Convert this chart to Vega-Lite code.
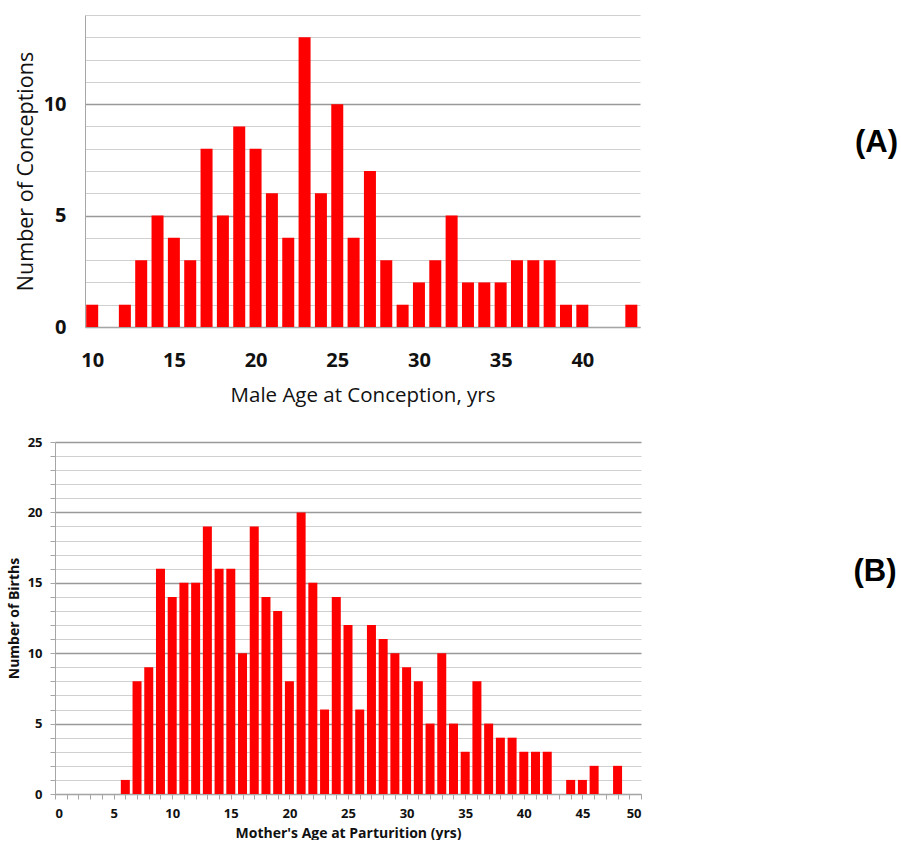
{
  "$schema": "https://vega.github.io/schema/vega-lite/v6.json",
  "background": "white",
  "padding": {"left": 7, "top": 15, "right": 0, "bottom": 0},
  "spacing": 30,
  "config": {
    "view": {"stroke": null},
    "font": "Open Sans",
    "axis": {"labelColor": "#111111", "titleColor": "#111111", "domainColor": "#a6a6a6"}
  },
  "datasets": {
    "male": [
      {"age": 10, "n": 1}, {"age": 11, "n": 0}, {"age": 12, "n": 1}, {"age": 13, "n": 3},
      {"age": 14, "n": 5}, {"age": 15, "n": 4}, {"age": 16, "n": 3}, {"age": 17, "n": 8},
      {"age": 18, "n": 5}, {"age": 19, "n": 9}, {"age": 20, "n": 8}, {"age": 21, "n": 6},
      {"age": 22, "n": 4}, {"age": 23, "n": 13}, {"age": 24, "n": 6}, {"age": 25, "n": 10},
      {"age": 26, "n": 4}, {"age": 27, "n": 7}, {"age": 28, "n": 3}, {"age": 29, "n": 1},
      {"age": 30, "n": 2}, {"age": 31, "n": 3}, {"age": 32, "n": 5}, {"age": 33, "n": 2},
      {"age": 34, "n": 2}, {"age": 35, "n": 2}, {"age": 36, "n": 3}, {"age": 37, "n": 3},
      {"age": 38, "n": 3}, {"age": 39, "n": 1}, {"age": 40, "n": 1}, {"age": 41, "n": 0},
      {"age": 42, "n": 0}, {"age": 43, "n": 1}
    ],
    "mother": [
      {"age": 6, "n": 1}, {"age": 7, "n": 8}, {"age": 8, "n": 9}, {"age": 9, "n": 16},
      {"age": 10, "n": 14}, {"age": 11, "n": 15}, {"age": 12, "n": 15}, {"age": 13, "n": 19},
      {"age": 14, "n": 16}, {"age": 15, "n": 16}, {"age": 16, "n": 10}, {"age": 17, "n": 19},
      {"age": 18, "n": 14}, {"age": 19, "n": 13}, {"age": 20, "n": 8}, {"age": 21, "n": 20},
      {"age": 22, "n": 15}, {"age": 23, "n": 6}, {"age": 24, "n": 14}, {"age": 25, "n": 12},
      {"age": 26, "n": 6}, {"age": 27, "n": 12}, {"age": 28, "n": 11}, {"age": 29, "n": 10},
      {"age": 30, "n": 9}, {"age": 31, "n": 8}, {"age": 32, "n": 5}, {"age": 33, "n": 10},
      {"age": 34, "n": 5}, {"age": 35, "n": 3}, {"age": 36, "n": 8}, {"age": 37, "n": 5},
      {"age": 38, "n": 4}, {"age": 39, "n": 4}, {"age": 40, "n": 3}, {"age": 41, "n": 3},
      {"age": 42, "n": 3}, {"age": 43, "n": 0}, {"age": 44, "n": 1}, {"age": 45, "n": 1},
      {"age": 46, "n": 2}, {"age": 47, "n": 0}, {"age": 48, "n": 2}
    ]
  },
  "vconcat": [
    {
      "width": 585,
      "height": 312,
      "title": {
        "text": "(A)", "orient": "right", "frame": "group", "angle": 0, "anchor": "middle",
        "align": "left", "baseline": "middle", "offset": 172, "dy": -28,
        "font": "Liberation Sans", "fontSize": 31, "fontWeight": "bold", "color": "black"
      },
      "data": {"name": "male"},
      "mark": {"type": "bar", "color": "#ff0000", "size": 12},
      "encoding": {
        "x": {
          "field": "age", "type": "quantitative",
          "scale": {"domain": [9.56, 43.53], "range": [30, 585], "padding": 0, "nice": false, "zero": false},
          "axis": {
            "title": "Male Age at Conception, yrs",
            "values": [10, 15, 20, 25, 30, 35, 40],
            "grid": false, "ticks": false,
            "labelFontSize": 20, "labelFontWeight": "bold", "labelPadding": 23,
            "titleFontSize": 20.5, "titleFontWeight": 500, "titlePadding": 15
          }
        },
        "y": {
          "field": "n", "type": "quantitative",
          "scale": {"domain": [0, 14], "nice": false},
          "axis": {
            "title": "Number of Conceptions",
            "offset": -30,
            "values": [0, 1, 2, 3, 4, 5, 6, 7, 8, 9, 10, 11, 12, 13, 14],
            "labelExpr": "datum.value % 5 === 0 ? datum.label : ''",
            "ticks": false,
            "gridColor": {"condition": {"test": "datum.value % 5 === 0", "value": "#999999"}, "value": "#d0d0d0"},
            "gridWidth": {"condition": {"test": "datum.value % 5 === 0", "value": 1.5}, "value": 1},
            "labelFontSize": 20, "labelFontWeight": "bold", "labelPadding": 19,
            "titleFontSize": 21.5, "titleFontWeight": 500, "titlePadding": 6
          }
        }
      }
    },
    {
      "width": 586,
      "height": 352,
      "title": {
        "text": "(B)", "orient": "right", "frame": "group", "angle": 0, "anchor": "middle",
        "align": "left", "baseline": "middle", "offset": 169, "dy": -46,
        "font": "Liberation Sans", "fontSize": 31, "fontWeight": "bold", "color": "black"
      },
      "data": {"name": "mother"},
      "mark": {"type": "bar", "color": "#ff0000", "size": 9},
      "encoding": {
        "x": {
          "field": "age", "type": "quantitative",
          "scale": {"domain": [0, 50], "padding": 0, "nice": false},
          "axis": {
            "title": "Mother's Age at Parturition (yrs)",
            "values": [0, 1, 2, 3, 4, 5, 6, 7, 8, 9, 10, 11, 12, 13, 14, 15, 16, 17, 18, 19, 20, 21, 22, 23, 24, 25, 26, 27, 28, 29, 30, 31, 32, 33, 34, 35, 36, 37, 38, 39, 40, 41, 42, 43, 44, 45, 46, 47, 48, 49, 50],
            "labelExpr": "datum.value % 5 === 0 ? datum.label : ''",
            "grid": false, "tickSize": 5, "tickColor": "#a6a6a6",
            "labelFontSize": 13, "labelFontWeight": "bold", "labelPadding": 8,
            "titleFontSize": 14, "titleFontWeight": "bold", "titlePadding": 6
          }
        },
        "y": {
          "field": "n", "type": "quantitative",
          "scale": {"domain": [0, 25], "nice": false},
          "axis": {
            "title": "Number of Births",
            "values": [0, 1, 2, 3, 4, 5, 6, 7, 8, 9, 10, 11, 12, 13, 14, 15, 16, 17, 18, 19, 20, 21, 22, 23, 24, 25],
            "labelExpr": "datum.value % 5 === 0 ? datum.label : ''",
            "tickSize": 5, "tickColor": "#a6a6a6",
            "gridColor": {"condition": {"test": "datum.value % 5 === 0", "value": "#999999"}, "value": "#d0d0d0"},
            "gridWidth": {"condition": {"test": "datum.value % 5 === 0", "value": 1.5}, "value": 1},
            "labelFontSize": 13, "labelFontWeight": "bold", "labelPadding": 8,
            "titleFontSize": 14, "titleFontWeight": "bold", "titlePadding": 6
          }
        }
      }
    }
  ]
}
